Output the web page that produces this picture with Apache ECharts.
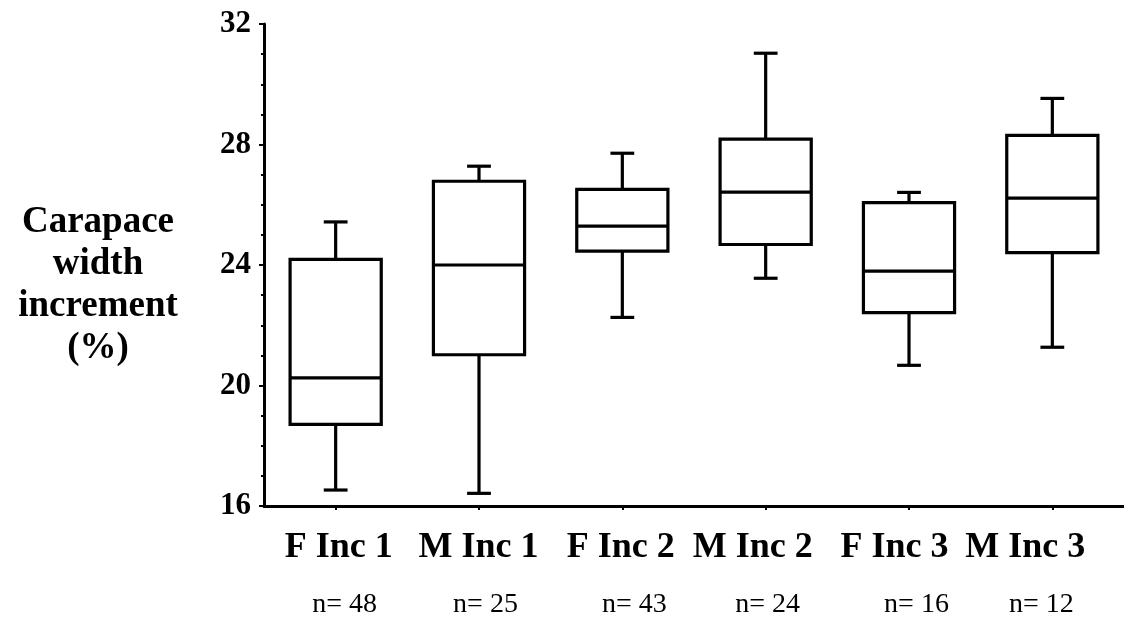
<!DOCTYPE html>
<html>
<head>
<meta charset="utf-8">
<script src="https://cdn.jsdelivr.net/npm/echarts@6/dist/echarts.min.js"></script>
<style>
html,body{margin:0;padding:0;background:#fff;}
#chart{width:1124px;height:619px;}
</style>
</head>
<body>
<div id="chart"></div>
<script>
// ---- data ----
const categories = ['F Inc 1', 'M Inc 1', 'F Inc 2', 'M Inc 2', 'F Inc 3', 'M Inc 3'];
const sampleSizes = ['n= 48', 'n= 25', 'n= 43', 'n= 24', 'n= 16', 'n= 12'];
const whiskerLow  = [16.53, 16.42, 22.26, 23.56, 20.67, 21.27];
const quartile1   = [18.71, 21.02, 24.46, 24.68, 22.42, 24.41];
const medians     = [20.25, 24.00, 25.29, 26.42, 23.80, 26.22];
const quartile3   = [24.19, 26.78, 26.51, 28.18, 26.07, 28.30];
const whiskerHigh = [25.43, 27.28, 27.71, 31.03, 26.41, 29.53];
const yMin = 16, yMax = 32, yStep = 4;
const yTitle = 'Carapace\nwidth\nincrement\n(%)';

// ---- label nudges (style only, px) ----
const nameShift = [3, -0.5, -1.5, -13, -14.5, -27];
const countShift = [9, 6.5, 12, 2, 7.5, -11];
function shiftPad(s) { return s >= 0 ? [0, 0, 0, 2 * s] : [0, -2 * s, 0, 0]; }

const FONT = '"Liberation Serif", "Times New Roman", serif';
const rows = categories.map((c, i) => [i, whiskerLow[i], quartile1[i], medians[i], quartile3[i], whiskerHigh[i]]);

const chart = echarts.init(document.getElementById('chart'), null, {renderer: 'canvas'});
chart.setOption({
  animation: false,
  backgroundColor: '#ffffff',
  grid: {left: 264, top: 24, width: 866, height: 483},
  graphic: [{
    type: 'text', x: 98, y: 285,
    style: {
      text: yTitle, fill: '#000', align: 'center', verticalAlign: 'middle',
      fontSize: 37, fontWeight: 'bold', fontFamily: FONT, lineHeight: 42
    }
  }],
  xAxis: [{
    type: 'category',
    data: categories.map((c, i) => ({value: c, textStyle: {padding: shiftPad(nameShift[i])}})),
    boundaryGap: true,
    axisLine: {show: true, lineStyle: {color: '#000', width: 3}},
    axisTick: {show: true, alignWithLabel: true, length: 4, lineStyle: {color: '#000', width: 2}},
    axisLabel: {interval: 0, margin: 24, color: '#000', fontSize: 36, fontWeight: 'bold', fontFamily: FONT},
    splitLine: {show: false}
  }, {
    type: 'category',
    position: 'bottom',
    data: sampleSizes.map((c, i) => ({value: c, textStyle: {padding: shiftPad(countShift[i])}})),
    boundaryGap: true,
    axisLine: {show: false},
    axisTick: {show: false},
    axisLabel: {interval: 0, margin: 85, color: '#000', fontSize: 28, fontFamily: FONT},
    splitLine: {show: false}
  }],
  yAxis: {
    type: 'value',
    min: yMin, max: yMax, interval: yStep,
    axisLine: {show: true, lineStyle: {color: '#000', width: 3}},
    axisTick: {show: true, length: 5, lineStyle: {color: '#000', width: 2}},
    minorTick: {show: true, splitNumber: 4, length: 3, lineStyle: {color: '#000', width: 2}},
    axisLabel: {margin: 13, color: '#000', fontSize: 31, fontWeight: 'bold', fontFamily: FONT},
    splitLine: {show: false},
    minorSplitLine: {show: false}
  },
  series: [{
    type: 'custom',
    xAxisIndex: 0,
    data: rows,
    encode: {x: 0, y: [1, 2, 3, 4, 5]},
    renderItem: function (params, api) {
      const idx = api.value(0);
      const band = api.size([1, 0])[0];
      const half = band * 0.318;
      const cap = band * 0.083;
      const pLow = api.coord([idx, api.value(1)]);
      const pQ1 = api.coord([idx, api.value(2)]);
      const pMed = api.coord([idx, api.value(3)]);
      const pQ3 = api.coord([idx, api.value(4)]);
      const pHigh = api.coord([idx, api.value(5)]);
      const cx = pMed[0];
      const st = {stroke: '#000', lineWidth: 3.2, fill: null, lineCap: 'butt'};
      return {
        type: 'group',
        children: [
          {type: 'line', shape: {x1: cx, y1: pQ3[1], x2: cx, y2: pHigh[1]}, style: st},
          {type: 'line', shape: {x1: cx - cap, y1: pHigh[1], x2: cx + cap, y2: pHigh[1]}, style: st},
          {type: 'line', shape: {x1: cx, y1: pQ1[1], x2: cx, y2: pLow[1]}, style: st},
          {type: 'line', shape: {x1: cx - cap, y1: pLow[1], x2: cx + cap, y2: pLow[1]}, style: st},
          {type: 'rect', shape: {x: cx - half, y: pQ3[1], width: 2 * half, height: pQ1[1] - pQ3[1]},
            style: {stroke: '#000', lineWidth: 3.2, fill: '#fff'}},
          {type: 'line', shape: {x1: cx - half, y1: pMed[1], x2: cx + half, y2: pMed[1]}, style: st}
        ]
      };
    }
  }]
});
</script>
</body>
</html>
